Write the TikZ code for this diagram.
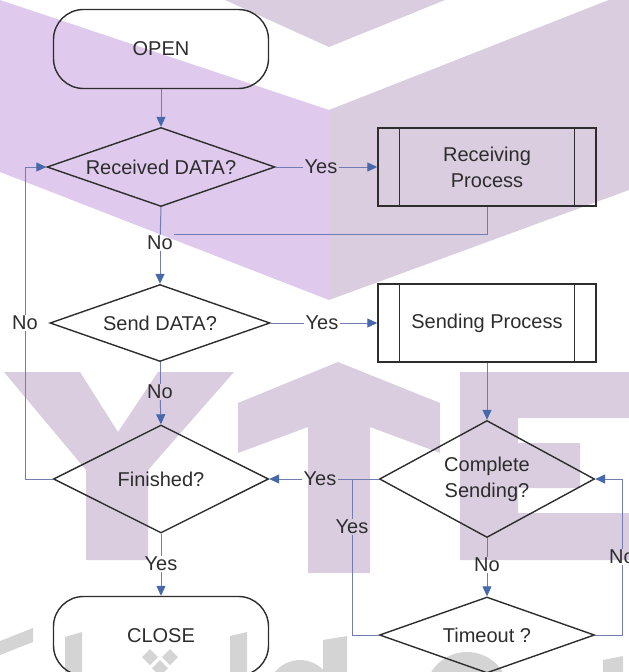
\documentclass[tikz,border=0pt]{standalone}
\usepackage{fontspec}
\setmainfont{Liberation Sans}
\usetikzlibrary{shapes.geometric, arrows.meta}

\definecolor{wmpurple}{RGB}{223,201,236}
\definecolor{wmgray}{RGB}{217,205,223}
\definecolor{wmtext}{RGB}{212,212,212}
\definecolor{linkcol}{RGB}{112,124,178}
\definecolor{tipcol}{RGB}{72,104,172}
\definecolor{inkcol}{RGB}{45,45,45}

\tikzset{
  every node/.style={font=\fontsize{20}{26}\selectfont, text=inkcol},
  terminal/.style={draw=inkcol, line width=1.4pt, rounded corners=30pt,
    minimum width=215pt, minimum height=79pt},
  decision/.style={draw=inkcol, line width=1.4pt, diamond, inner sep=0pt, align=center},
  process/.style={draw=inkcol, line width=1.4pt, minimum width=218pt,
    minimum height=78pt, align=center},
  tag/.style={inner sep=1pt},
  link/.style={draw=linkcol, line width=1pt},
  arrow/.style={link, -{Triangle[length=10pt, width=9pt, color=tipcol]}},
}

\begin{document}
\begin{tikzpicture}[x=1pt, y=-1pt]
\clip (0,0) rectangle (629,672);

% watermark
\fill[wmgray] (225,0) -- (329,47) -- (445,0) -- cycle;
\fill[wmpurple] (0,0) -- (329,110) -- (329,300) -- (0,172) -- cycle;
\fill[wmgray] (329,110) -- (629,-8) -- (629,190) -- (329,300) -- cycle;
\fill[wmgray] (4,372) -- (80,372) -- (118,432) -- (158,372) -- (234,372) -- (148,470)
  -- (148,560) -- (86,560) -- (86,470) -- cycle;
\fill[wmgray] (338,362) -- (440,403) -- (440,453) -- (370,427) -- (370,573) -- (308,573)
  -- (308,427) -- (238,453) -- (238,403) -- cycle;
\fill[wmgray] (460,372) -- (629,372) -- (629,418) -- (518,418) -- (518,443) -- (580,443)
  -- (580,488) -- (518,488) -- (518,513) -- (629,513) -- (629,560) -- (460,560) -- cycle;
\fill[wmtext] (0,641) -- (33,628) -- (33,642) -- (0,655) -- cycle;
\fill[wmtext] (65,637) -- (82,632) -- (82,672) -- (65,672) -- cycle;
\fill[wmtext] (230,636) -- (247,632) -- (247,672) -- (230,672) -- cycle;
\fill[wmtext] (323,640) -- (347,636) -- (347,672) -- (323,672) -- cycle;
\foreach \x/\y in {150/657, 170/657, 160/668}
  \fill[wmtext] (\x,\y-8) -- (\x+8,\y) -- (\x,\y+8) -- (\x-8,\y) -- cycle;
\fill[wmtext] (300,692) circle (32);
\fill[wmtext] (467,694) circle (42);
\fill[wmtext] (603,660) -- (623,656) -- (623,672) -- (603,672) -- cycle;

% shapes
\node[terminal] (open) at (161,49) {OPEN};
\node[decision, minimum width=228pt, minimum height=79pt, shape aspect=2.9] (recv) at (161,167) {Received DATA?};
\node[process] (recvproc) at (487,167) {Receiving\\Process};
\node[decision, minimum width=220pt, minimum height=77pt, shape aspect=2.9] (send) at (160,323) {Send DATA?};
\node[process] (sendproc) at (487,323) {Sending Process};
\node[decision, minimum width=215pt, minimum height=108pt, shape aspect=2] (finish) at (161,479) {Finished?};
\node[decision, minimum width=215pt, minimum height=117pt, shape aspect=1.84] (complete) at (487,479) {Complete\\Sending?};
\node[terminal] (close) at (161,636) {CLOSE};
\node[decision, minimum width=215pt, minimum height=76pt, shape aspect=2.8] (timeout) at (487,635) {Timeout ?};

\foreach \p in {recvproc, sendproc} {
  \draw[inkcol, line width=1.4pt] ([xshift=22pt]\p.north west) -- ([xshift=22pt]\p.south west);
  \draw[inkcol, line width=1.4pt] ([xshift=-22pt]\p.north east) -- ([xshift=-22pt]\p.south east);
}

% labels
\node[tag] (yes1) at (321,167) {Yes};
\node[tag] (no1) at (160,243) {No};
\node[tag] (yes2) at (322,323) {Yes};
\node[tag] (no2) at (25,323) {No};
\node[tag] (no3) at (160,392) {No};
\node[tag] (yes3) at (320,479) {Yes};
\node[tag] (yes4) at (352,527) {Yes};
\node[tag] (yes5) at (161,564) {Yes};
\node[tag] (no4) at (487,565) {No};
\node[tag] (no5) at (622,557) {No};
\coordinate (fork) at (yes4 |- complete.west);

% connectors
\draw[arrow] (open) -- (recv);
\draw[link] (recv.east) -- (yes1);
\draw[arrow] (yes1) -- (recvproc.west);
\draw[link] (recv.south) -- (no1);
\draw[arrow] (no1) -- (send.north);
\draw[link] (recvproc.south) |- (no1.north east);
\draw[link] (send.east) -- (yes2);
\draw[arrow] (yes2) -- (sendproc.west);
\draw[link] (send.south) -- (no3);
\draw[arrow] (no3) -- (finish.north);
\draw[link] (finish.west) -| (no2.south);
\draw[arrow] (no2.north) |- (recv.west);
\draw[arrow] (sendproc) -- (complete.north);
\draw[link] (complete.west) -- (yes3);
\draw[arrow] (yes3) -- (finish.east);
\draw[link] (timeout.west) -| (yes4.south);
\draw[link] (yes4.north) -- (fork);
\draw[link] (complete.south) -- (no4);
\draw[arrow] (no4) -- (timeout.north);
\draw[link] (timeout.east) -| (no5.south);
\draw[arrow] (no5.north) |- (complete.east);
\draw[link] (finish.south) -- (yes5);
\draw[arrow] (yes5) -- (close.north);
\end{tikzpicture}
\end{document}
